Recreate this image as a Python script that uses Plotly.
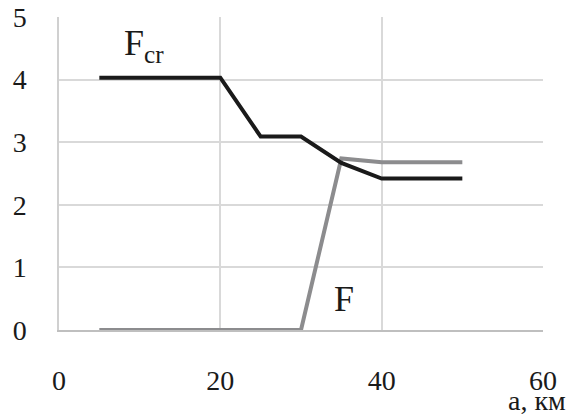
import plotly.graph_objects as go

x_fcr = [5, 20, 25, 30, 35, 40, 50]
y_fcr = [4.03, 4.03, 3.09, 3.09, 2.67, 2.42, 2.42]
x_f = [5, 30, 35, 40, 50]
y_f = [0, 0, 2.74, 2.68, 2.68]

x_ticks = [0, 20, 40, 60]
y_ticks = [0, 1, 2, 3, 4, 5]

FONT = "Liberation Serif, Times New Roman, serif"

fig = go.Figure()
fig.add_trace(go.Scatter(x=x_f, y=y_f, mode="lines",
                         line=dict(color="#8c8c8e", width=4), showlegend=False))
fig.add_trace(go.Scatter(x=x_fcr, y=y_fcr, mode="lines",
                         line=dict(color="#1a1a1a", width=4), showlegend=False))

fig.update_layout(
    width=579, height=416,
    margin=dict(l=59, r=36, t=17, b=86),
    plot_bgcolor="white", paper_bgcolor="white",
    font=dict(family=FONT, size=28, color="#1a1a1a"),
    xaxis=dict(range=[0, 60], tickvals=x_ticks, showgrid=True,
               gridcolor="#d9d9d9", gridwidth=1.5, zeroline=False,
               showline=True, linecolor="#bfbfbf", linewidth=1.5,
               mirror=False, ticks="", ticklabelstandoff=25, automargin=False,
               tickfont=dict(family=FONT, size=28)),
    yaxis=dict(range=[0, 5], tickvals=y_ticks, showgrid=True,
               gridcolor="#d9d9d9", gridwidth=1.5, zeroline=False,
               showline=True, linecolor="#d0d0d0", linewidth=1.5,
               ticks="", ticklabelstandoff=25, automargin=False,
               tickfont=dict(family=FONT, size=28)),
    annotations=[
        dict(x=10.5, y=4.55, xref="x", yref="y", text="F<sub>cr</sub>",
             showarrow=False, font=dict(family=FONT, size=36, color="#1a1a1a")),
        dict(x=35.3, y=0.49, xref="x", yref="y", text="F",
             showarrow=False, font=dict(family=FONT, size=36, color="#1a1a1a")),
        dict(x=1.0, y=0, xref="paper", yref="paper", yshift=-70, xshift=25,
             text="а, км", showarrow=False, xanchor="right", yanchor="middle",
             font=dict(family=FONT, size=28, color="#1a1a1a")),
    ],
)

fig.write_html("out.html",
               config={"displayModeBar": False},
               post_script="document.body.style.margin='0';document.body.style.overflow='hidden';")
